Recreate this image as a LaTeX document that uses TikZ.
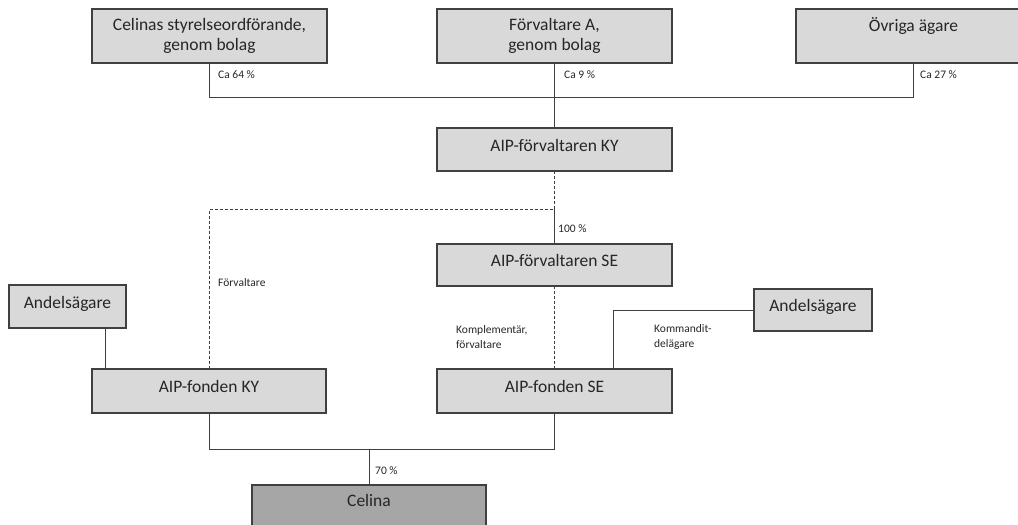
\documentclass[tikz,border=0pt]{standalone}
\usepackage{fontspec}
\setmainfont{Carlito}
\definecolor{boxgray}{HTML}{D9D9D9}
\definecolor{celgray}{HTML}{A6A6A6}
\definecolor{linegray}{HTML}{404040}
\begin{document}
\begin{tikzpicture}[x=1pt,y=-1pt,
  orgbox/.style={draw=linegray,line width=1.2pt,fill=boxgray,inner sep=0pt,outer sep=0pt,
    align=center,font=\fontsize{17.5}{20.5}\selectfont,text=black!85},
  onebox/.style={orgbox,text height=12pt,text depth=9pt},
  lbl/.style={anchor=west,inner sep=0pt,align=left,font=\fontsize{11.5}{15.5}\selectfont,text=black!85},
  conn/.style={draw=linegray,line width=0.9pt},
  dconn/.style={draw=linegray,line width=0.9pt,dash pattern=on 3pt off 2pt}]
\useasboundingbox (0,0) rectangle (1018,525);
\clip (0,0) rectangle (1018,525);
% top owners
\node[orgbox,minimum width=235pt,minimum height=54pt] (c1) at (209.5,36) {Celinas styrelseordförande,\\genom bolag};
\node[orgbox,minimum width=235pt,minimum height=54pt] (c2) at (554.5,36) {Förvaltare A,\\genom bolag};
\node[orgbox,minimum width=235pt,minimum height=54pt] (c3) at (913.5,36) {Övriga ägare\\\phantom{g}};
% managers
\node[onebox,minimum width=235pt,minimum height=43pt] (kyf) at (554.5,149.5) {AIP-förvaltaren KY};
\node[onebox,minimum width=235pt,minimum height=42pt] (sef) at (554.5,265) {AIP-förvaltaren SE};
% funds
\node[onebox,minimum width=117pt,minimum height=43pt] (and1) at (67.5,306.5) {Andelsägare};
\node[onebox,minimum width=118pt,minimum height=42pt] (and2) at (813,310) {Andelsägare};
\node[onebox,minimum width=234pt,minimum height=44pt] (fky) at (209,391) {AIP-fonden KY};
\node[onebox,minimum width=235pt,minimum height=44pt] (fse) at (554.5,391) {AIP-fonden SE};
% Celina
\node[orgbox,fill=celgray,minimum width=234pt,minimum height=60pt,anchor=north] (celina) at (369,485) {};
\node[font=\fontsize{17.5}{20.5}\selectfont,text=black!85,inner sep=0pt] (celinatext) at (369,500) {Celina};
% connectors top
\draw[conn] (c1.south) -- ++(0,34) -| (c3.south);
\draw[conn] (c2.south) -- (kyf.north);
\node[lbl] (l64) at (218,75) {Ca 64 \%};
\node[lbl] (l9) at (564,75) {Ca 9 \%};
\node[lbl] (l27) at (920,75) {Ca 27 \%};
% manager connectors
\coordinate (d1) at (554.5,209);
\draw[dconn] (kyf.south) -- (d1) -| (fky.north);
\draw[conn] (d1) -- (sef.north);
\node[lbl] (l100) at (558,229) {100 \%};
\draw[dconn] (sef.south) -- (fse.north);
\node[lbl] (lfv) at (218,283) {Förvaltare};
\node[lbl] (lkomp) at (456,337) {Komplementär,\\förvaltare};
% andelsägare
\draw[conn] ([xshift=-21pt]and1.south east) -- ([xshift=-21pt]and1.south east |- fky.north);
\draw[conn] (and2.west) -| ([xshift=58.5pt]fse.north);
\node[lbl] (lkomm) at (654,337) {Kommandit-\\delägare};
% bottom
\draw[conn] (fky.south) -- ++(0,36) coordinate (jb) -| (fse.south);
\draw[conn] (celina.north |- jb) -- (celina.north);
\node[lbl] (l70) at (375,471) {70 \%};
\end{tikzpicture}
\end{document}
